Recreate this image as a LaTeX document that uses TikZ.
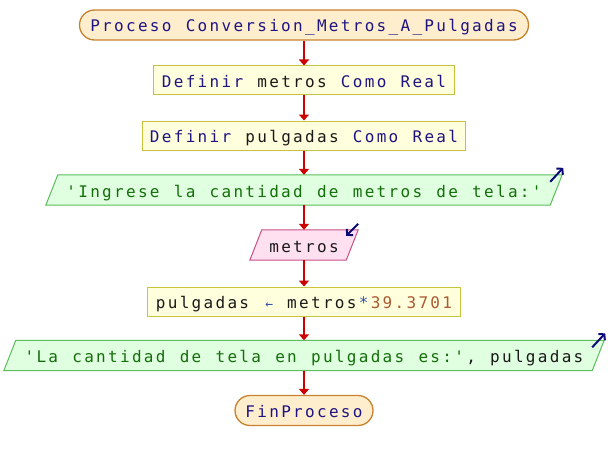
\documentclass[tikz,border=0pt]{standalone}
\usepackage{fontspec}
\setmonofont[LetterSpace=14.4]{DejaVu Sans Mono}
\usetikzlibrary{arrows.meta,calc,backgrounds}
\newcommand\SP{\symbol{"00A0}}
\newcommand\LS{\kern2.304pt\relax}
\newcommand\larr{\makebox[11.94pt][c]{\fontsize{13}{13}\selectfont\symbol{"2190}}}
\definecolor{kw}{RGB}{30,20,130}
\definecolor{var}{RGB}{25,25,25}
\definecolor{str}{RGB}{20,110,10}
\definecolor{num}{RGB}{170,90,50}
\definecolor{op}{RGB}{50,80,170}
\definecolor{orfill}{RGB}{255,238,206}
\definecolor{ordraw}{RGB}{200,130,45}
\definecolor{yefill}{RGB}{255,255,221}
\definecolor{yedraw}{RGB}{200,195,60}
\definecolor{grfill}{RGB}{224,255,224}
\definecolor{grdraw}{RGB}{90,190,90}
\definecolor{pkfill}{RGB}{255,224,240}
\definecolor{pkdraw}{RGB}{200,80,135}
\definecolor{flow}{RGB}{204,0,0}
\definecolor{icon}{RGB}{10,10,120}
\begin{document}
\begin{tikzpicture}[x=1pt,y=-1pt,
  base/.style={font=\fontsize{16}{18}\selectfont\ttfamily, inner sep=0pt, text height=14pt, text depth=0pt, minimum height=30pt},
  term/.style={base, draw=ordraw, fill=orfill, line width=1.3pt, rounded corners=15pt},
  defbox/.style={base, draw=yedraw, fill=yefill, line width=1pt, minimum height=29pt},
  iobox/.style={base},
  flowarr/.style={draw=flow, line width=2pt, -{Triangle[width=10pt,length=6pt]}},
  iconarr/.style={draw=icon, line width=2pt, -{Straight Barb[length=4pt,width=9pt]}}]
\useasboundingbox (0,0) rectangle (608,460);

\node[term, minimum width=449pt] (n1) at (304,25) {\textcolor{kw}{Proceso\SP Conversion\_Metros\_A\_Pulgadas}};
\node[defbox, minimum width=301pt] (n2) at (304,80.5) {\textcolor{kw}{Definir\SP}\LS\textcolor{var}{metros}\LS\textcolor{kw}{\SP Como\SP Real}};
\node[defbox, minimum width=323pt] (n3) at (304,135.5) {\textcolor{kw}{Definir\SP}\LS\textcolor{var}{pulgadas}\LS\textcolor{kw}{\SP Como\SP Real}};
\node[iobox, minimum width=504pt] (n4) at (304,190) {\textcolor{str}{'Ingrese\SP la\SP cantidad\SP de\SP metros\SP de\SP tela:'}};
\node[iobox, minimum width=96pt] (n5) at (304,245) {\textcolor{var}{metros}};
\node[defbox, minimum width=313pt] (n6) at (304,301.5) {\textcolor{var}{pulgadas\SP}\LS\textcolor{op}{\larr}\textcolor{var}{\SP metros}\LS\textcolor{op}{*}\LS\textcolor{num}{39.3701}};
\node[iobox, minimum width=588pt] (n7) at (304,355.5) {\textcolor{str}{'La\SP cantidad\SP de\SP tela\SP en\SP pulgadas\SP es:'}\LS\textcolor{var}{,\SP pulgadas}};
\node[term, minimum width=138pt] (n8) at (304,410.5) {\textcolor{kw}{FinProceso}};

\begin{scope}[on background layer]
  \foreach \n/\f/\d in {n4/grfill/grdraw, n5/pkfill/pkdraw, n7/grfill/grdraw} {
    \filldraw[fill=\f, draw=\d, line width=1pt]
      ($(\n.south west)+(-6,0)$) -- ($(\n.north west)+(6,0)$) --
      ($(\n.north east)+(6,0)$) -- ($(\n.south east)+(-6,0)$) -- cycle;
  }
\end{scope}

\draw[flowarr] (n1.south) -- (n2.north);
\draw[flowarr] (n2.south) -- (n3.north);
\draw[flowarr] (n3.south) -- (n4.north);
\draw[flowarr] (n4.south) -- (n5.north);
\draw[flowarr] (n5.south) -- (n6.north);
\draw[flowarr] (n6.south) -- (n7.north);
\draw[flowarr] (n7.south) -- (n8.north);

\coordinate (a4s) at ($(n4.north east)+(-6,7)$);
\coordinate (a4e) at ($(n4.north east)+(7,-7)$);
\coordinate (a5s) at ($(n5.north east)+(6,-6)$);
\coordinate (a5e) at ($(n5.north east)+(-6,6)$);
\coordinate (a7s) at ($(n7.north east)+(-6,7)$);
\coordinate (a7e) at ($(n7.north east)+(7,-7)$);
\draw[iconarr] (a4s) -- (a4e);
\draw[iconarr] (a5s) -- (a5e);
\draw[iconarr] (a7s) -- (a7e);
\end{tikzpicture}
\end{document}
